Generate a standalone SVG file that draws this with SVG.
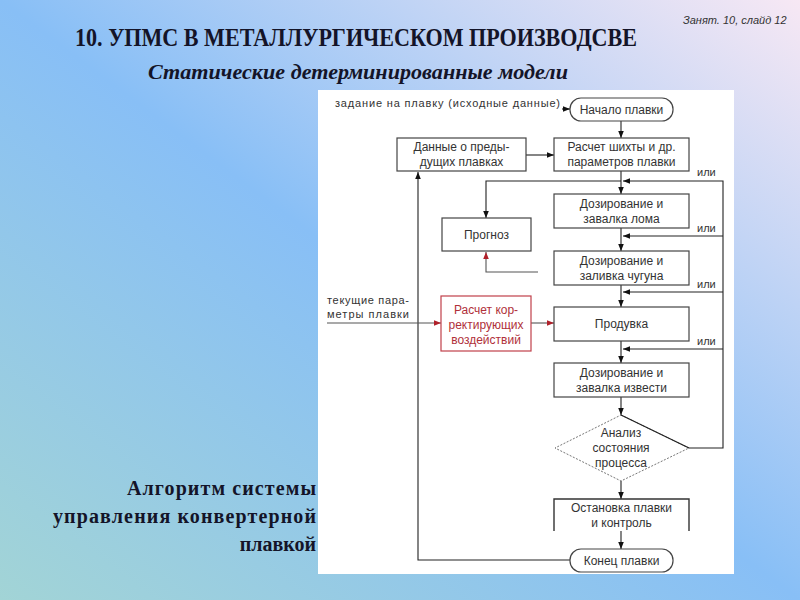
<svg xmlns="http://www.w3.org/2000/svg" width="800" height="600" viewBox="0 0 800 600">
<defs>
<linearGradient id="bg" x1="1" y1="0" x2="0" y2="1">
<stop offset="0" stop-color="#f7e8f4"/>
<stop offset="0.5" stop-color="#88bff6"/>
<stop offset="1" stop-color="#a2d4d6"/>
</linearGradient>
<marker id="arr" viewBox="0 0 8 8" refX="8" refY="4" markerWidth="7" markerHeight="7" markerUnits="userSpaceOnUse" orient="auto">
<path d="M0,0.8 L8,4 L0,7.2 z" fill="#111"/>
</marker>
<marker id="arrR" viewBox="0 0 8 8" refX="8" refY="4" markerWidth="7" markerHeight="7" markerUnits="userSpaceOnUse" orient="auto">
<path d="M0,0.8 L8,4 L0,7.2 z" fill="#b0202a"/>
</marker>
<style>
.box{fill:#fff;stroke:#444;stroke-width:1.2}
.rbox{fill:#fff;stroke:#c0404a;stroke-width:1.2}
.t{font-family:"Liberation Sans",Arial,sans-serif;font-size:12px;fill:#333;text-anchor:middle}
.rt{font-family:"Liberation Sans",Arial,sans-serif;font-size:12px;fill:#b0303a;text-anchor:middle}
.lbl{font-family:"Liberation Sans",Arial,sans-serif;font-size:11px;fill:#333}
.c{fill:none;stroke:#222;stroke-width:1.1}
.cr{fill:none;stroke:#555;stroke-width:1.1}
.h{font-family:"Liberation Serif","Times New Roman",serif;font-weight:bold;fill:#141428}
</style>
</defs>
<rect x="0" y="0" width="800" height="600" fill="url(#bg)"/>

<text x="683" y="24" font-family="Liberation Sans,Arial,sans-serif" font-style="italic" font-size="11" fill="#333">Занят. 10, слайд 12</text>
<text class="h" x="75" y="46" font-size="25" textLength="562" lengthAdjust="spacingAndGlyphs">10. УПМС В МЕТАЛЛУРГИЧЕСКОМ ПРОИЗВОДСВЕ</text>
<text class="h" x="148" y="79" font-size="22" font-style="italic" textLength="420" lengthAdjust="spacingAndGlyphs">Статические детерминированные модели</text>

<g font-size="20" text-anchor="end">
<text class="h" x="316" y="495" textLength="189" lengthAdjust="spacing">Алгоритм системы</text>
<text class="h" x="316" y="523" textLength="263" lengthAdjust="spacing">управления конвертерной</text>
<text class="h" x="316" y="551">плавкой</text>
</g>

<rect x="318" y="90" width="416" height="484" fill="#fff"/>

<g id="connectors">
<path class="c" d="M562,109 H570" marker-end="url(#arr)"/>
<path class="c" d="M621,121 V138" marker-end="url(#arr)"/>
<path class="c" d="M526,155 H554" marker-end="url(#arr)"/>
<path class="c" d="M621,171 V194" marker-end="url(#arr)"/>
<path class="c" d="M689,448 H723 V181 H623" marker-end="url(#arr)"/>
<path class="c" d="M621,181 H486 V218" marker-end="url(#arr)"/>
<path class="c" d="M723,236 H623" marker-end="url(#arr)"/>
<path class="c" d="M723,292 H623" marker-end="url(#arr)"/>
<path class="c" d="M723,349 H623" marker-end="url(#arr)"/>
<path class="c" d="M621,228 V251" marker-end="url(#arr)"/>
<path class="c" d="M621,285 V307" marker-end="url(#arr)"/>
<path class="c" d="M621,341 V363" marker-end="url(#arr)"/>
<path class="c" d="M621,397 V415" marker-end="url(#arr)"/>
<path class="c" d="M621,481 V499" marker-end="url(#arr)"/>
<path class="c" d="M621,531 V549" marker-end="url(#arr)"/>
<path class="c" d="M570,560 H418 V172" marker-end="url(#arr)"/>
<path class="cr" d="M538,272 H486 V252" marker-end="url(#arrR)"/>
<path class="cr" d="M327,323 H441" marker-end="url(#arrR)"/>
<path class="cr" d="M531,323 H554" marker-end="url(#arrR)"/>
<text class="lbl" x="697" y="176">или</text>
<text class="lbl" x="697" y="232">или</text>
<text class="lbl" x="697" y="288">или</text>
<text class="lbl" x="697" y="345">или</text>
<text class="lbl" x="335" y="107" textLength="225" lengthAdjust="spacing">задание на плавку (исходные данные)</text>
<text class="lbl" x="327" y="304" textLength="82" lengthAdjust="spacing">текущие пара-</text>
<text class="lbl" x="327" y="318" textLength="82" lengthAdjust="spacing">метры плавки</text>
</g>

<g id="start">
<rect class="box" x="570" y="98" width="103" height="23" rx="11"/>
<text class="t" x="621.5" y="114">Начало плавки</text>
</g>
<g id="prev-data">
<rect class="box" x="397" y="138" width="129" height="33"/>
<text class="t" x="461.5" y="151">Данные о преды-</text>
<text class="t" x="461.5" y="166">дущих плавках</text>
</g>
<g id="calc-charge">
<rect class="box" x="554" y="138" width="135" height="33"/>
<text class="t" x="621.5" y="151">Расчет шихты и др.</text>
<text class="t" x="621.5" y="166">параметров плавки</text>
</g>
<g id="scrap">
<rect class="box" x="554" y="194" width="135" height="34"/>
<text class="t" x="621.5" y="208">Дозирование и</text>
<text class="t" x="621.5" y="223">завалка лома</text>
</g>
<g id="forecast">
<rect class="box" x="442" y="218" width="89" height="33"/>
<text class="t" x="486.5" y="239">Прогноз</text>
</g>
<g id="iron">
<rect class="box" x="554" y="251" width="135" height="34"/>
<text class="t" x="621.5" y="265">Дозирование и</text>
<text class="t" x="621.5" y="280">заливка чугуна</text>
</g>
<g id="correction">
<rect class="rbox" x="441" y="296" width="90" height="55"/>
<text class="rt" x="486" y="314">Расчет кор-</text>
<text class="rt" x="486" y="329">ректирующих</text>
<text class="rt" x="486" y="344">воздействий</text>
</g>
<g id="blow">
<rect class="box" x="554" y="307" width="135" height="34"/>
<text class="t" x="621.5" y="328">Продувка</text>
</g>
<g id="lime">
<rect class="box" x="554" y="363" width="135" height="34"/>
<text class="t" x="621.5" y="377">Дозирование и</text>
<text class="t" x="621.5" y="392">завалка извести</text>
</g>
<g id="analysis">
<polygon points="621,415 689,448 621,481 555,448" fill="#fff" stroke="#666" stroke-width="0.9" stroke-dasharray="2,1.5"/>
<path d="M621,415 L689,448" stroke="#222" stroke-width="1.2" fill="none"/>
<text class="t" x="621" y="437">Анализ</text>
<text class="t" x="621" y="452">состояния</text>
<text class="t" x="621" y="467">процесса</text>
</g>
<g id="stop">
<rect x="554" y="499" width="135" height="32" fill="#fff"/>
<path d="M554,531 V499 H689 V531" fill="none" stroke="#333" stroke-width="1.4"/>
<text class="t" x="621.5" y="512">Остановка плавки</text>
<text class="t" x="621.5" y="527">и контроль</text>
</g>
<g id="end">
<rect class="box" x="570" y="549" width="103" height="23" rx="11"/>
<text class="t" x="621.5" y="565">Конец плавки</text>
</g>
</svg>
